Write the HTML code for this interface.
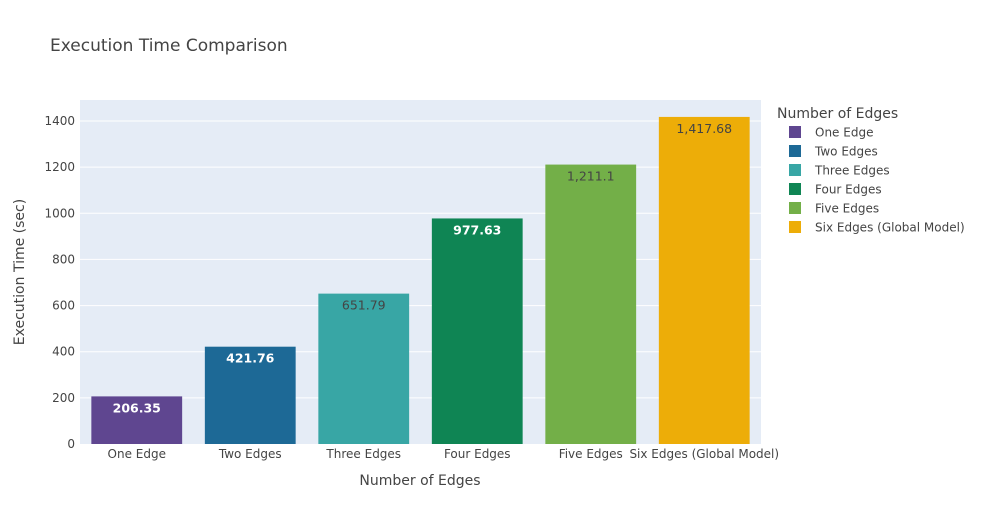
<!DOCTYPE html>
<html><head><meta charset="utf-8"><style>
body{margin:0;background:#fff;}
svg text{font-family:"DejaVu Sans","Liberation Sans",sans-serif;}
</style></head><body>
<svg id="chart" width="983" height="525" xmlns="http://www.w3.org/2000/svg">
<rect x="0" y="0" width="983" height="525" fill="#fff"/>
<text x="50" y="51" font-size="17" fill="#444">Execution Time Comparison</text>
<rect x="80" y="100" width="681" height="344" fill="#e5ecf6"/>
<g id="grid"></g>
<g id="bars"></g>
<g id="xticks"></g>
<g id="yticks"></g>
<text x="420" y="485" font-size="14" fill="#444" text-anchor="middle">Number of Edges</text>
<text x="0" y="0" font-size="14" fill="#444" text-anchor="middle" transform="translate(24,272) rotate(-90)">Execution Time (sec)</text>
<text x="777" y="118" font-size="14" fill="#444">Number of Edges</text>
<g id="legend"></g>
</svg>
<script>
const categories = ["One Edge","Two Edges","Three Edges","Four Edges","Five Edges","Six Edges (Global Model)"];
const values = [206.35, 421.76, 651.79, 977.63, 1211.1, 1417.68];
const valueLabels = ["206.35","421.76","651.79","977.63","1,211.1","1,417.68"];
const yTicks = [0,200,400,600,800,1000,1200,1400];
const colors = ["#5f4690","#1d6996","#38a6a5","#0f8554","#73af48","#edad08"];
const labelDark = [false,false,true,false,true,true];

const NS="http://www.w3.org/2000/svg";
const X0=80, W=681, Y0=444, H=344, YMAX=1491;
const y = v => Y0 - v/YMAX*H;
const band = W/categories.length;
const xc = i => X0 + band*(i+0.5);
function mk(tag, attrs, parent, text){
  const e=document.createElementNS(NS,tag);
  for(const k in attrs) e.setAttribute(k,attrs[k]);
  if(text!==undefined) e.textContent=text;
  document.getElementById(parent).appendChild(e);
  return e;
}
yTicks.forEach(t=>{
  if(t>0){
    const g=mk("line",{x1:X0,x2:X0+W,y1:y(t),y2:y(t),stroke:"#fff","stroke-width":1},"grid");
    
    
  }
  const l=mk("text",{x:X0-5,y:y(t)+4,"font-size":12,fill:"#444","text-anchor":"end"},"yticks",String(t));
  
  
});
categories.forEach((c,i)=>{
  const bw=band*0.8;
  const r=mk("rect",{x:xc(i)-bw/2,y:y(values[i]),width:bw,height:Y0-y(values[i]),fill:colors[i]},"bars");
  
  
  const dark=labelDark[i];
  const t=mk("text",{x:xc(i),y:y(values[i])+16,"font-size":12.5,"text-anchor":"middle",fill:dark?"#444":"#fff","font-weight":dark?"normal":"bold"},"bars",valueLabels[i]);
  
  
  const xl=mk("text",{x:xc(i),y:458,"font-size":12,fill:"#444","text-anchor":"middle"},"xticks",c);
  
  
  const ly=132+i*19;
  const sq=mk("rect",{x:789,y:ly-6,width:12,height:12,fill:colors[i]},"legend");
  
  
  const lt=mk("text",{x:815,y:ly+4.5,"font-size":12,fill:"#444"},"legend",c);
  
  
});
</script>
</body></html>
